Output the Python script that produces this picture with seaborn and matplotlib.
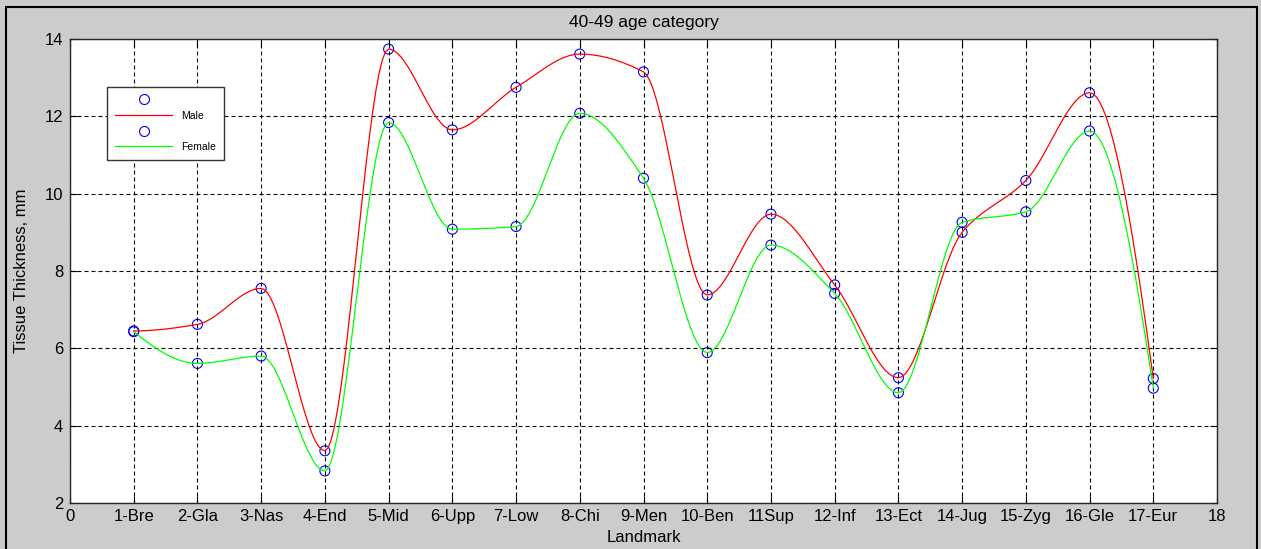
"""
Soft tissue thickness per landmark, 40-49 age category (male vs female)
"""

import numpy as np
import pandas as pd
import matplotlib

matplotlib.use("Agg")
import matplotlib.pyplot as plt
import seaborn as sns
from matplotlib.lines import Line2D
from matplotlib.patches import Rectangle

landmarks = [
    "1-Bre", "2-Gla", "3-Nas", "4-End", "5-Mid", "6-Upp", "7-Low", "8-Chi", "9-Men",
    "10-Ben", "11Sup", "12-Inf", "13-Ect", "14-Jug", "15-Zyg", "16-Gle", "17-Eur",
]
positions = list(range(1, 18))
male = [6.45, 6.62, 7.55, 3.35, 13.74, 11.65, 12.75, 13.61, 13.15,
        7.38, 9.47, 7.64, 5.24, 9.00, 10.34, 12.61, 5.22]
female = [6.43, 5.61, 5.80, 2.83, 11.84, 9.08, 9.15, 12.08, 10.40,
          5.89, 8.67, 7.42, 4.85, 9.26, 9.53, 11.62, 4.97]


def _end_slope(h0, h1, d0, d1):
    s = ((2 * h0 + h1) * d0 - h0 * d1) / (h0 + h1)
    if np.sign(s) != np.sign(d0):
        s = 0.0
    elif np.sign(d0) != np.sign(d1) and abs(s) > abs(3 * d0):
        s = 3 * d0
    return s


def pchip_curve(x, y, n_per_seg=20):
    """shape preserving piecewise cubic through the points (like matlab pchip)"""
    x = np.asarray(x, float)
    y = np.asarray(y, float)
    n = len(x)
    h = np.diff(x)
    delta = np.diff(y) / h
    d = np.zeros(n)
    for k in range(1, n - 1):
        if delta[k - 1] * delta[k] > 0:
            w1 = 2 * h[k] + h[k - 1]
            w2 = h[k] + 2 * h[k - 1]
            d[k] = (w1 + w2) / (w1 / delta[k - 1] + w2 / delta[k])
    d[0] = _end_slope(h[0], h[1], delta[0], delta[1])
    d[-1] = _end_slope(h[-1], h[-2], delta[-1], delta[-2])
    xs, ys = [], []
    for i in range(n - 1):
        t = np.linspace(x[i], x[i + 1], n_per_seg, endpoint=(i == n - 2))
        s = (t - x[i]) / h[i]
        h00 = 2 * s**3 - 3 * s**2 + 1
        h10 = s**3 - 2 * s**2 + s
        h01 = -2 * s**3 + 3 * s**2
        h11 = s**3 - s**2
        xs.append(t)
        ys.append(h00 * y[i] + h10 * h[i] * d[i] + h01 * y[i + 1] + h11 * h[i] * d[i + 1])
    return np.concatenate(xs), np.concatenate(ys)


points = pd.DataFrame({
    "pos": positions + positions,
    "thick": male + female,
    "sex": ["Male"] * len(male) + ["Female"] * len(female),
})

curves = []
for sex, vals in [("Male", male), ("Female", female)]:
    xx, yy = pchip_curve(positions, vals)
    curves.append(pd.DataFrame({"pos": xx, "thick": yy, "sex": sex}))
curves = pd.concat(curves, ignore_index=True)

plt.rcParams["font.family"] = ["Liberation Sans", "DejaVu Sans"]
plt.rcParams["font.size"] = 12

W, H = 1261, 549
fig = plt.figure(figsize=(W / 100, H / 100), dpi=100, facecolor="#cccccc")
ax = fig.add_axes([70 / W, (H - 503) / H, 1147 / W, 464 / H])
ax.set_facecolor("white")

sns.scatterplot(
    data=points, x="pos", y="thick", marker="o", s=52,
    facecolor="none", edgecolor="blue", linewidth=0.8, legend=False, ax=ax,
)
sns.lineplot(
    data=curves, x="pos", y="thick", hue="sex",
    palette={"Male": "#ff0000", "Female": "#00ff00"},
    estimator=None, sort=False, lw=0.9, legend=False, ax=ax,
)

ax.set_xlim(0, 18)
ax.set_ylim(2, 14)
ax.set_xticks([0] + positions + [18])
ax.set_xticklabels(["0"] + landmarks + ["18"])
ax.set_yticks(range(2, 15, 2))
ax.grid(True, color="black", linestyle=(0, (3.6, 2.7)), linewidth=0.8)
ax.tick_params(direction="in", length=5, width=0.8, top=True, right=True,
               labelsize=12, colors="black")
ax.tick_params(axis="x", pad=4)
ax.tick_params(axis="y", pad=5)
for sp in ax.spines.values():
    sp.set_color("#262626")
    sp.set_linewidth(1.0)

ax.set_title("40-49 age category", fontsize=12.5, pad=9)
ax.set_xlabel("Landmark", fontsize=12)
ax.set_ylabel("Tissue Thickness, mm", fontsize=12)
ax.xaxis.set_label_coords(0.5, -0.058)
ax.yaxis.set_label_coords(-0.036, 0.5)

handles = [
    Line2D([], [], ls="", marker="o", ms=7.2, mfc="none", mec="blue", mew=0.8),
    Line2D([], [], color="#ff0000", lw=0.9),
    Line2D([], [], ls="", marker="o", ms=7.2, mfc="none", mec="blue", mew=0.8),
    Line2D([], [], color="#00ff00", lw=0.9),
]
leg = ax.legend(
    handles, [" ", "Male", " ", "Female"],
    loc="upper left", bbox_to_anchor=(0.0323, 0.8966), borderaxespad=0,
    fontsize=7.5, handlelength=5.5, handletextpad=0.9, labelspacing=0.55,
    borderpad=0.75, fancybox=False, framealpha=1, edgecolor="#333333",
    numpoints=1,
)
leg.get_frame().set_linewidth(1.0)

# black frame around the figure
fig.patches.append(Rectangle(
    (5.5 / W, -0.05), (1257 - 5.5) / W, (H - 6.5) / H + 0.05,
    transform=fig.transFigure, fill=False, edgecolor="black", lw=1.5,
))

fig.savefig("out.png", dpi=100, facecolor=fig.get_facecolor())
